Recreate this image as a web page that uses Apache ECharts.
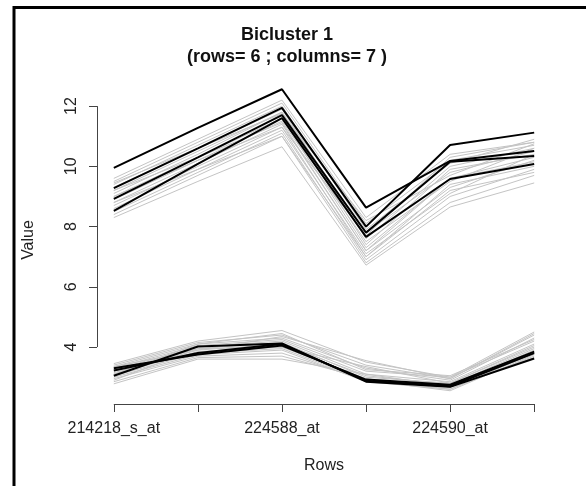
<!DOCTYPE html>
<html>
<head>
<meta charset="utf-8">
<script src="https://cdn.jsdelivr.net/npm/echarts@6/dist/echarts.min.js"></script>
<style>
  html, body { margin: 0; padding: 0; background: #ffffff; }
  #chart { width: 586px; height: 486px; }
</style>
</head>
<body>
<div id="chart"></div>
<script>
// Row positions (probe sets) along the x axis
const rowPositions = [1, 2, 3, 4, 5, 6];
// Only every other row name is printed on the axis
const rowLabels = { 1: '214218_s_at', 3: '224588_at', 5: '224590_at' };
const yTicks = [4, 6, 8, 10, 12];

// Bicluster columns: high-expression block
const clusterHigh = [
  [9.95, 11.28, 12.56, 8.63, 10.18, 10.51],
  [9.28, 10.60, 11.94, 8.00, 10.71, 11.12],
  [8.92, 10.30, 11.70, 7.80, 10.15, 10.34],
  [8.52, 10.08, 11.60, 7.66, 9.58, 10.08]
];
// Bicluster columns: low-expression block
const clusterLow = [
  [3.30, 3.75, 4.05, 2.92, 2.75, 3.85],
  [3.22, 3.80, 4.10, 2.88, 2.70, 3.80],
  [3.05, 4.02, 4.12, 2.85, 2.68, 3.62]
];

// Remaining columns, drawn in grey for comparison
const othersHigh = [
  [9.60, 10.90, 12.20, 8.30, 10.40, 10.80],
  [9.50, 10.80, 12.10, 8.10, 10.20, 10.70],
  [9.40, 10.70, 12.00, 7.90, 10.10, 10.90],
  [9.30, 10.60, 11.90, 7.60, 10.00, 10.60],
  [9.20, 10.50, 11.80, 7.80, 9.80, 10.50],
  [9.10, 10.40, 11.80, 7.40, 9.90, 10.40],
  [9.00, 10.30, 11.60, 7.30, 9.60, 10.30],
  [8.90, 10.20, 11.50, 7.50, 9.50, 10.60],
  [8.80, 10.10, 11.40, 7.20, 9.30, 10.20],
  [8.70, 10.00, 11.30, 7.00, 9.40, 10.00],
  [8.60, 9.90, 11.20, 7.10, 9.10, 10.40],
  [8.50, 9.80, 11.10, 6.90, 9.00, 9.90],
  [8.40, 9.70, 11.00, 6.80, 8.80, 9.70],
  [8.30, 9.50, 10.65, 6.72, 8.65, 9.45],
  [9.45, 10.60, 11.75, 8.20, 9.70, 10.75],
  [9.00, 10.20, 11.30, 7.70, 10.30, 10.80],
  [8.80, 9.90, 11.00, 7.00, 9.20, 9.80],
  [9.20, 10.30, 11.45, 7.20, 9.60, 10.15]
];
const othersLow = [
  [3.45, 4.20, 4.55, 3.50, 3.00, 4.50],
  [3.40, 4.15, 4.40, 3.40, 2.95, 4.40],
  [3.35, 4.10, 4.30, 3.30, 2.90, 4.30],
  [3.30, 4.05, 4.25, 3.20, 3.00, 4.20],
  [3.25, 4.00, 4.20, 3.10, 2.85, 4.10],
  [3.20, 3.95, 4.15, 3.00, 2.80, 4.00],
  [3.15, 3.90, 4.10, 3.05, 2.75, 3.95],
  [3.10, 3.85, 4.00, 2.95, 2.70, 3.90],
  [3.05, 3.80, 3.95, 2.90, 2.65, 3.85],
  [3.00, 3.75, 3.90, 2.85, 2.60, 3.80],
  [2.95, 3.70, 3.80, 2.90, 2.55, 3.75],
  [2.85, 3.65, 3.70, 2.95, 2.60, 3.70],
  [2.78, 3.60, 3.60, 3.10, 2.70, 3.65],
  [3.35, 3.90, 4.35, 3.55, 2.95, 4.45],
  [3.10, 4.10, 4.45, 3.25, 3.05, 4.25],
  [2.90, 3.95, 4.00, 3.35, 2.80, 4.05]
];

// Axis ranges (data range padded as in base graphics)
const xRange = [0.8, 6.2];
const yRange = [2.11, 13.0];

const FONT = '"Liberation Sans", Arial, sans-serif';

function profileSeries(values, color, width, z) {
  return {
    type: 'line',
    data: values.map((v, i) => [rowPositions[i], v]),
    showSymbol: false,
    symbol: 'none',
    lineStyle: { color: color, width: width },
    silent: true,
    z: z
  };
}

const series = [];
othersHigh.concat(othersLow).forEach(v => series.push(profileSeries(v, '#c4c4c4', 1, 2)));
clusterHigh.concat(clusterLow).forEach(v => series.push(profileSeries(v, '#000000', 2, 3)));

// Axis lines spanning only the tick range
series.push({
  type: 'line',
  data: [],
  silent: true,
  markLine: {
    symbol: 'none',
    silent: true,
    animation: false,
    label: { show: false },
    lineStyle: { color: '#444', width: 1, type: 'solid' },
    data: [
      [{ coord: [xRange[0], yTicks[0]] }, { coord: [xRange[0], yTicks[yTicks.length - 1]] }],
      [{ coord: [rowPositions[0], yRange[0]] }, { coord: [rowPositions[rowPositions.length - 1], yRange[0]] }]
    ]
  }
});

const chart = echarts.init(document.getElementById('chart'), null, { renderer: 'canvas' });
chart.setOption({
  animation: false,
  backgroundColor: '#ffffff',
  grid: { left: 97, right: 35, top: 76, bottom: 82, containLabel: false },
  xAxis: {
    type: 'value',
    min: xRange[0],
    max: xRange[1],
    name: 'Rows',
    nameLocation: 'middle',
    nameGap: 54,
    nameTextStyle: { color: '#222', fontSize: 16, fontFamily: FONT },
    axisLine: { show: false },
    splitLine: { show: false },
    axisTick: { show: true, customValues: rowPositions, length: 8, inside: false,
                lineStyle: { color: '#444', width: 1 } },
    axisLabel: { show: true, customValues: [1, 3, 5], margin: 17,
                 formatter: v => rowLabels[v] || '',
                 color: '#222', fontSize: 16, fontFamily: FONT }
  },
  yAxis: {
    type: 'value',
    min: yRange[0],
    max: yRange[1],
    name: 'Value',
    nameLocation: 'middle',
    nameGap: 60,
    nameRotate: 90,
    nameTextStyle: { color: '#222', fontSize: 16, fontFamily: FONT },
    axisLine: { show: false },
    splitLine: { show: false },
    axisTick: { show: true, customValues: yTicks, length: 8, inside: false,
                lineStyle: { color: '#444', width: 1 } },
    axisLabel: { show: true, customValues: yTicks, rotate: 90, margin: 17,
                 color: '#222', fontSize: 16, fontFamily: FONT }
  },
  graphic: [
    { type: 'rect', shape: { x: 14, y: 7.5, width: 800, height: 800 },
      style: { fill: 'none', stroke: '#000', lineWidth: 3 }, silent: true },
    { type: 'text', x: 287, y: 35,
      style: { text: 'Bicluster 1', font: 'bold 18px ' + FONT, fill: '#111',
               textAlign: 'center', textVerticalAlign: 'middle' } },
    { type: 'text', x: 287, y: 57,
      style: { text: '(rows= 6 ; columns= 7 )', font: 'bold 18px ' + FONT, fill: '#111',
               textAlign: 'center', textVerticalAlign: 'middle' } }
  ],
  series: series
});
</script>
</body>
</html>
